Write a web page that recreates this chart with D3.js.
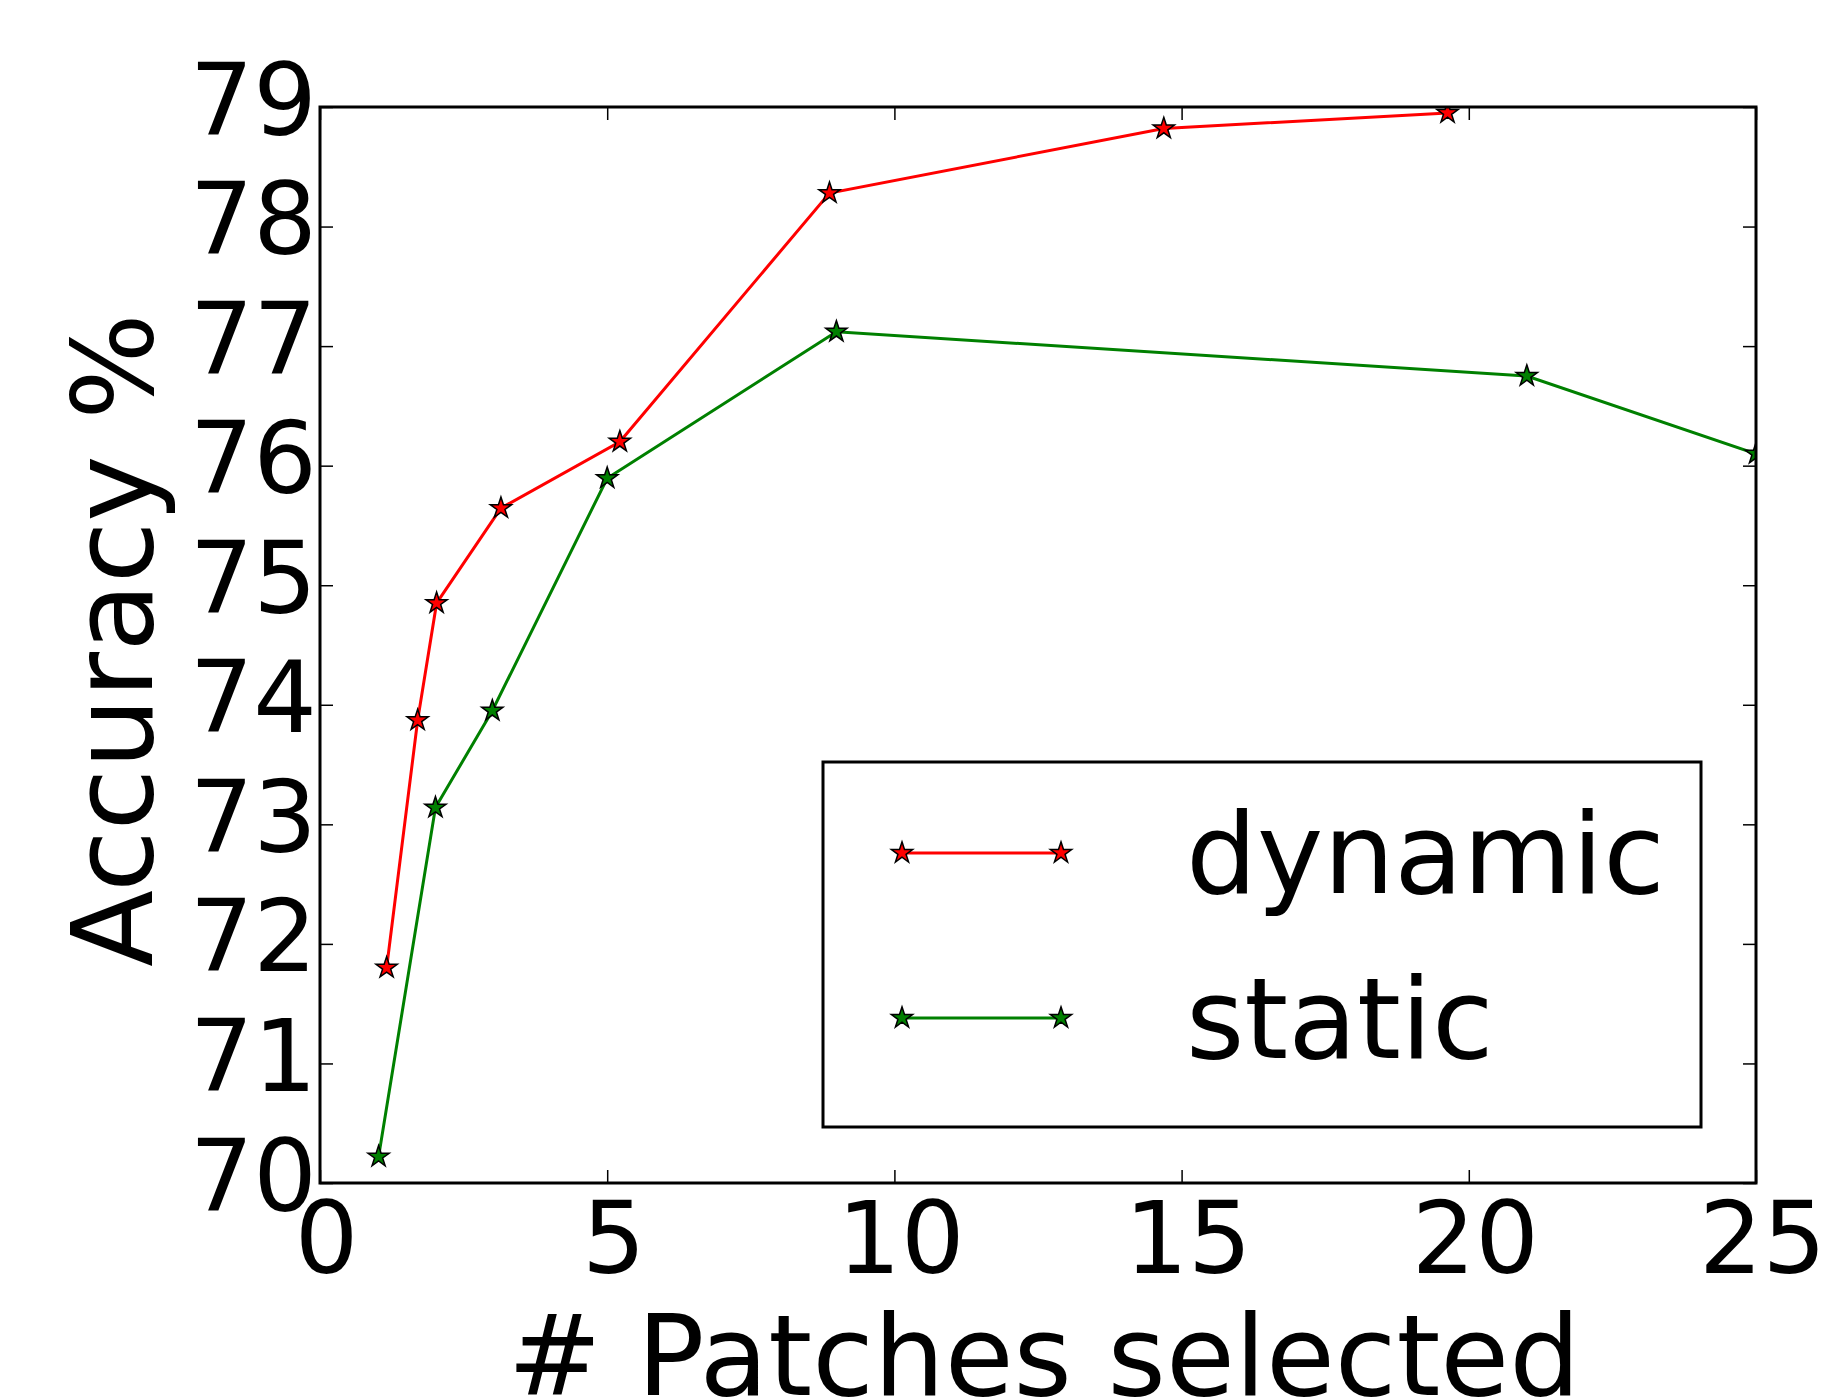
<!DOCTYPE html>
<html>
<head>
<meta charset="utf-8">
<script src="https://cdn.jsdelivr.net/npm/d3@7"></script>
<style>
    body { margin: 0; background: #fff; }
    text { font-family: "DejaVu Sans", sans-serif; fill: #000; }
</style>
</head>
<body>
<div id="chart"></div>
<script>
// Data
const seriesNames = ["dynamic", "static"];
const seriesColors = ["#ff0000", "#008000"];
const dynamicX = [1.16, 1.70, 2.03, 3.15, 5.22, 8.87, 14.69, 19.63];
const dynamicY = [71.80, 73.87, 74.85, 75.645, 76.20, 78.28, 78.82, 78.95];
const staticX = [1.02, 2.01, 3.0, 5.0, 8.99, 21.01, 25.0];
const staticY = [70.22, 73.14, 73.95, 75.895, 77.12, 76.75, 76.10];
const xTicks = [0, 5, 10, 15, 20, 25];
const yTicks = [70, 71, 72, 73, 74, 75, 76, 77, 78, 79];

const chart = {width: 1824, height: 1400, margin: {left: 320, top: 107, right: 68, bottom: 217}};
chart.innerWidth = chart.width - chart.margin.left - chart.margin.right;
chart.innerHeight = chart.height - chart.margin.top - chart.margin.bottom;

const svg = d3.select("#chart")
    .append("svg")
    .attr("width", chart.width)
    .attr("height", chart.height)
    .append("g")
    .attr("transform", `translate(${chart.margin.left}, ${chart.margin.top})`);

const x = d3.scaleLinear().domain([0, 25]).range([0, chart.innerWidth]);
const y = d3.scaleLinear().domain([70, 79]).range([chart.innerHeight, 0]);

// Clip marks to the axes box like matplotlib does
svg.append("clipPath").attr("id", "plotClip")
    .append("rect")
    .attr("width", chart.innerWidth)
    .attr("height", chart.innerHeight);

const series = [
    {name: seriesNames[0], color: seriesColors[0], points: dynamicX.map((d, i) => [d, dynamicY[i]])},
    {name: seriesNames[1], color: seriesColors[1], points: staticX.map((d, i) => [d, staticY[i]])}
];

const star = d3.symbol().type(d3.symbolStar).size(140);
const line = d3.line().x(d => x(d[0])).y(d => y(d[1]));

const marks = svg.append("g").attr("clip-path", "url(#plotClip)");
series.forEach(s => {
    marks.append("path")
        .attr("d", line(s.points))
        .attr("fill", "none")
        .attr("stroke", s.color)
        .attr("stroke-width", 3);
    marks.selectAll(null)
        .data(s.points)
        .enter()
        .append("path")
        .attr("d", star)
        .attr("transform", d => `translate(${x(d[0])}, ${y(d[1])})`)
        .attr("fill", s.color)
        .attr("stroke", "#000")
        .attr("stroke-width", 1.5);
});

// Axes: ticks point inward on all four sides
const tickLen = 13;
const styleTicks = g => {
    g.select(".domain").remove();
    g.selectAll(".tick line").attr("stroke", "#000").attr("stroke-width", 1.5);
};

svg.append("g")
    .call(d3.axisLeft(y).tickValues(yTicks).tickSize(-tickLen).tickPadding(3))
    .call(styleTicks)
    .call(g => g.selectAll("text")
        .attr("font-size", 100)
        .attr("font-family", "DejaVu Sans")
        .attr("dy", 27));

svg.append("g")
    .attr("transform", `translate(${chart.innerWidth}, 0)`)
    .call(d3.axisRight(y).tickValues(yTicks).tickSize(-tickLen).tickFormat(""))
    .call(styleTicks);

svg.append("g")
    .attr("transform", `translate(0, ${chart.innerHeight})`)
    .call(d3.axisBottom(x).tickValues(xTicks).tickSize(-tickLen).tickPadding(0))
    .call(styleTicks)
    .call(g => g.selectAll("text")
        .attr("font-size", 100)
        .attr("font-family", "DejaVu Sans")
        .attr("y", 0)
        .attr("dx", 6)
        .attr("dy", 90));

svg.append("g")
    .call(d3.axisTop(x).tickValues(xTicks).tickSize(-tickLen).tickFormat(""))
    .call(styleTicks);

// Frame
svg.append("rect")
    .attr("width", chart.innerWidth)
    .attr("height", chart.innerHeight)
    .attr("fill", "none")
    .attr("stroke", "#000")
    .attr("stroke-width", 3);

// Axis titles
svg.append("text")
    .attr("x", chart.innerWidth / 2 + 6)
    .attr("y", 1395 - chart.margin.top)
    .attr("text-anchor", "middle")
    .attr("font-size", 112)
    .text("# Patches selected");

svg.append("text")
    .attr("transform", `translate(${152 - chart.margin.left}, ${640 - chart.margin.top}) rotate(-90)`)
    .attr("text-anchor", "middle")
    .attr("font-size", 112)
    .text("Accuracy %");

// Legend
const legend = svg.append("g")
    .attr("transform", `translate(${823 - chart.margin.left}, ${762 - chart.margin.top})`);
legend.append("rect")
    .attr("width", 878)
    .attr("height", 365)
    .attr("fill", "#fff")
    .attr("stroke", "#000")
    .attr("stroke-width", 3);

const legendRows = legend.selectAll(".row")
    .data(series)
    .enter()
    .append("g")
    .attr("class", "row")
    .attr("transform", (d, i) => `translate(0, ${91 + i * 165})`);
legendRows.append("line")
    .attr("x1", 79).attr("x2", 238)
    .attr("stroke", d => d.color)
    .attr("stroke-width", 3);
legendRows.selectAll(".legStar")
    .data(d => [[79, d.color], [238, d.color]])
    .enter()
    .append("path")
    .attr("d", star)
    .attr("transform", d => `translate(${d[0]}, 0)`)
    .attr("fill", d => d[1])
    .attr("stroke", "#000")
    .attr("stroke-width", 1.5);
legendRows.append("text")
    .attr("x", 363)
    .attr("y", 40)
    .attr("font-size", 112)
    .text(d => d.name);
</script>
</body>
</html>
